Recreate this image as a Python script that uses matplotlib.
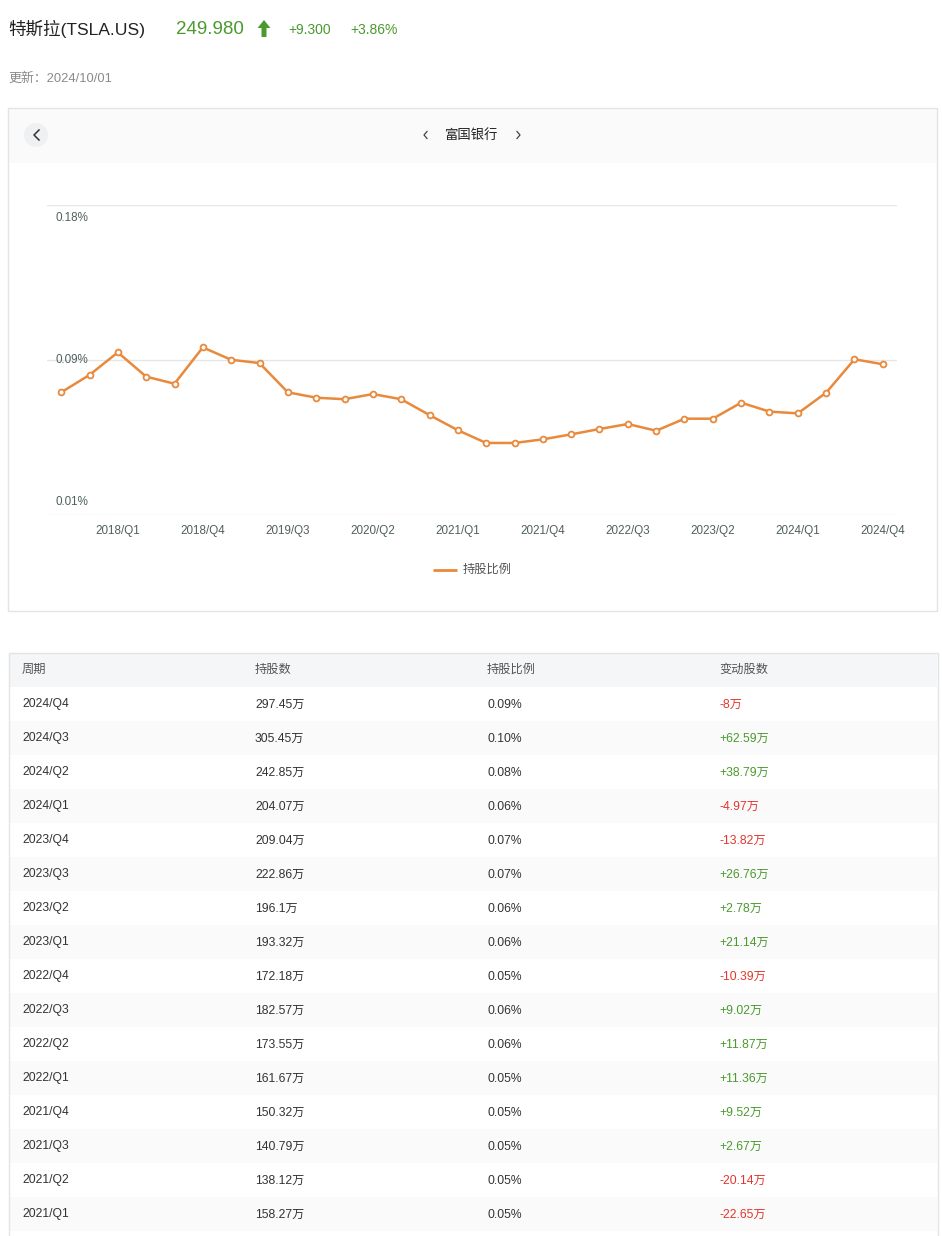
import matplotlib
matplotlib.use("Agg")
import matplotlib.pyplot as plt
from matplotlib.patches import Rectangle, Circle, Polygon

plt.rcParams["font.family"] = ["Liberation Sans", "Noto Sans CJK SC", "DejaVu Sans"]

# ---- chart data (holding ratio, %) ----
quarters = [
    "2017/Q3", "2017/Q4", "2018/Q1", "2018/Q2", "2018/Q3", "2018/Q4",
    "2019/Q1", "2019/Q2", "2019/Q3", "2019/Q4", "2020/Q1", "2020/Q2",
    "2020/Q3", "2020/Q4", "2021/Q1", "2021/Q2", "2021/Q3", "2021/Q4",
    "2022/Q1", "2022/Q2", "2022/Q3", "2022/Q4", "2023/Q1", "2023/Q2",
    "2023/Q3", "2023/Q4", "2024/Q1", "2024/Q2", "2024/Q3", "2024/Q4",
]
ratio = [
    0.0714, 0.0815, 0.0946, 0.0805, 0.0764, 0.0975, 0.0903, 0.0884,
    0.0714, 0.0683, 0.0674, 0.0704, 0.0674, 0.0582, 0.0494, 0.0420,
    0.0420, 0.0441, 0.0470, 0.0501, 0.0530, 0.0491, 0.0561, 0.0561,
    0.0654, 0.0602, 0.0592, 0.0712, 0.0906, 0.0877,
]
y_ticks = [0.0, 0.09, 0.18]
y_tick_labels = ["0.01%", "0.09%", "0.18%"]

# ---- table data ----
periods = [
    "2024/Q4", "2024/Q3", "2024/Q2", "2024/Q1", "2023/Q4", "2023/Q3",
    "2023/Q2", "2023/Q1", "2022/Q4", "2022/Q3", "2022/Q2", "2022/Q1",
    "2021/Q4", "2021/Q3", "2021/Q2", "2021/Q1",
]
holdings = [297.45, 305.45, 242.85, 204.07, 209.04, 222.86, 196.1, 193.32,
            172.18, 182.57, 173.55, 161.67, 150.32, 140.79, 138.12, 158.27]
hold_pct = [0.09, 0.10, 0.08, 0.06, 0.07, 0.07, 0.06, 0.06,
            0.05, 0.06, 0.06, 0.05, 0.05, 0.05, 0.05, 0.05]
changes = [-8, 62.59, 38.79, -4.97, -13.82, 26.76, 2.78, 21.14,
           -10.39, 9.02, 11.87, 11.36, 9.52, 2.67, -20.14, -22.65]
headers = ["周期", "持股数", "持股比例", "变动股数"]

W, H = 942, 1236
GREEN = "#4a9a2e"
RED = "#e2362c"
ORANGE = "#e8893b"
AXIS_TXT = "#51605f"
BORDER = "#e4e4e4"

fig = plt.figure(figsize=(W / 100, H / 100), dpi=100)

# background layer in pixel coordinates
bg = fig.add_axes([0, 0, 1, 1], zorder=0)
bg.set_xlim(0, W)
bg.set_ylim(H, 0)
bg.axis("off")

# header
bg.text(8, 29, "特斯拉(TSLA.US)", fontsize=12.6, color="#222222", va="center")
bg.text(176, 29, "249.980", fontsize=13.5, color=GREEN, va="center")
bg.add_patch(Polygon([(264, 20), (257.5, 28), (261.5, 28), (261.5, 37),
                      (266.5, 37), (266.5, 28), (270.5, 28)],
                     closed=True, color=GREEN, lw=0))
bg.text(288, 30, "+9.300", fontsize=10, color=GREEN, va="center")
bg.text(350, 30, "+3.86%", fontsize=10, color=GREEN, va="center")
bg.text(8, 79, "更新：2024/10/01", fontsize=9.3, color="#8a8a8a", va="center")

# chart card
bg.add_patch(Rectangle((8, 108), 928.5, 55, fc="#fafafa", ec="none"))
bg.add_patch(Rectangle((7.5, 107.5), 929.5, 503.5, fc="none", ec=BORDER, lw=1,
                       zorder=5))
bg.add_patch(Circle((36, 135), 12, fc="#eff0f2", ec="none"))
# thin chevrons
bg.plot([39, 34, 39], [130, 135, 140], color="#333333", lw=1.1)
bg.plot([427, 424, 427], [131.5, 135, 138.5], color="#444444", lw=0.9)
bg.plot([517, 520, 517], [131.5, 135, 138.5], color="#444444", lw=0.9)
bg.text(472, 135, "富国银行", fontsize=9.6, color="#222222", ha="center",
        va="center", fontweight="medium")

# legend
bg.plot([433, 457], [570, 570], color=ORANGE, lw=2, solid_capstyle="butt")
bg.text(463, 570, "持股比例", fontsize=8.8, color="#555555", va="center")

# table
row_h = 34
tab_top = 652
col_x = [22, 255, 487, 719]
bg.add_patch(Rectangle((9, tab_top + 1), 928, row_h, fc="#f5f6f7", ec="none"))
for cx, h in zip(col_x, headers):
    bg.text(cx, tab_top + 18, h, fontsize=8.8, color="#555555", va="center")

for i, (p, hv, pc, ch) in enumerate(zip(periods, holdings, hold_pct, changes)):
    y0 = tab_top + 1 + row_h * (i + 1)
    if i % 2 == 1:
        bg.add_patch(Rectangle((9, y0), 928, row_h, fc="#fafafa", ec="none"))
    yc = y0 + row_h / 2 + 0.5
    bg.text(col_x[0], yc, p, fontsize=8.7, color="#333333", va="center")
    bg.text(col_x[1], yc, f"{hv:g}万", fontsize=8.7, color="#333333", va="center")
    bg.text(col_x[2], yc, f"{pc:.2f}%", fontsize=8.7, color="#333333", va="center")
    bg.text(col_x[3], yc, f"{ch:+g}万", fontsize=8.7,
            color=GREEN if ch > 0 else RED, va="center")
bg.add_patch(Rectangle((8.5, tab_top + 0.5), 929, H - tab_top + 5, fc="none",
                       ec=BORDER, lw=1, zorder=5))

# ---- line chart ----
left, right, top, bottom = 47, 897, 205.3, 515.3
ax = fig.add_axes([left / W, 1 - bottom / H, (right - left) / W, (bottom - top) / H],
                  zorder=1)
ax.patch.set_alpha(0)
x = list(range(len(quarters)))
ax.plot(x, ratio, color=ORANGE, lw=1.8, marker="o", markersize=4.2,
        markerfacecolor="white", markeredgecolor=ORANGE, markeredgewidth=1.3,
        zorder=3, clip_on=False)
ax.set_xlim(-0.5, len(quarters) - 0.5)
ax.set_ylim(0, 0.18)
for yt in y_ticks:
    ax.axhline(yt, color="#e6e6e6", lw=1, zorder=1)
ax.set_yticks([])
tick_idx = x[2::3]
ax.set_xticks(tick_idx)
ax.set_xticklabels([quarters[i] for i in tick_idx], fontsize=8.4, color=AXIS_TXT)
ax.tick_params(axis="x", length=0, pad=7)
for s in ax.spines.values():
    s.set_visible(False)

# y labels drawn inside the plot, as in the source
offsets = {0.0: ("bottom", 5), 0.09: ("center", 0), 0.18: ("top", -5)}
for yt, lab in zip(y_ticks, y_tick_labels):
    va, dy = offsets[yt]
    ax.annotate(lab, (0, yt), xycoords=("axes fraction", "data"),
                xytext=(6, dy), textcoords="offset points", fontsize=8.4,
                color=AXIS_TXT, va=va, ha="left")

fig.savefig("out.png", dpi=100)
